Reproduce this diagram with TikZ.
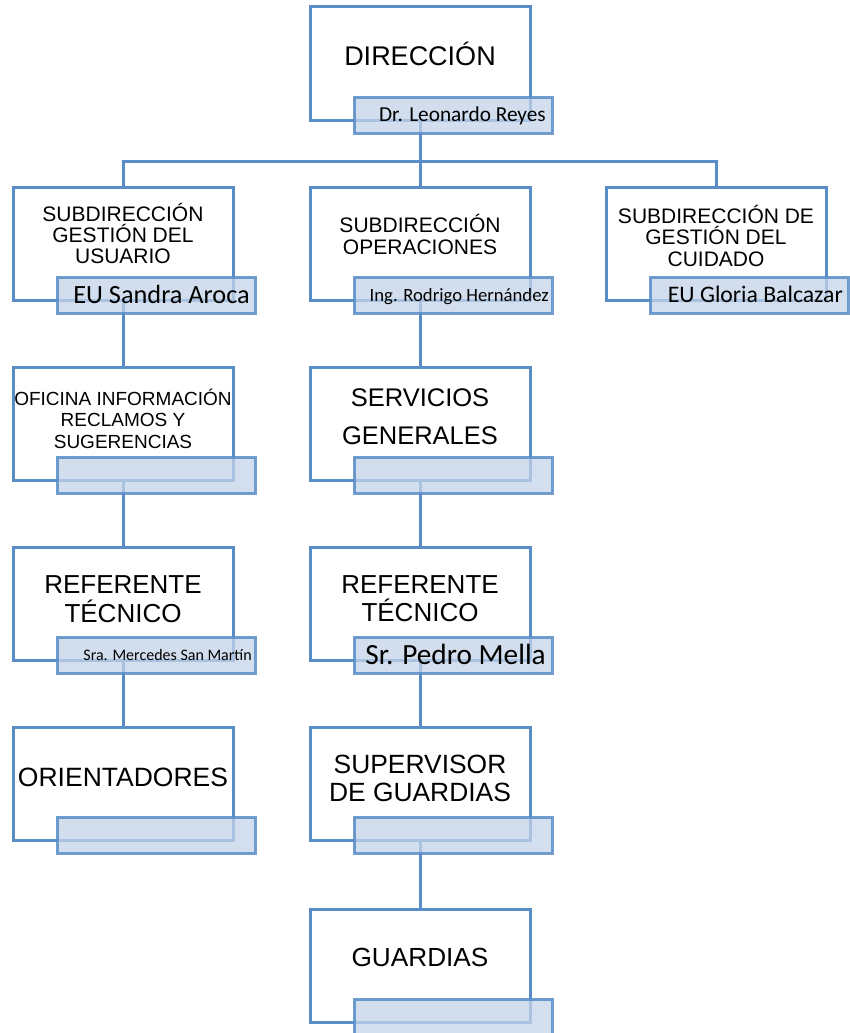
\documentclass[tikz,border=0pt]{standalone}
\usepackage{fontspec}
\setmainfont{Liberation Sans}
\newfontfamily\namefont{Carlito}
\definecolor{boxblue}{RGB}{88,141,199}
\definecolor{labfill}{RGB}{196,212,232}
\newcommand\fs[1]{\fontsize{#1}{#1}\selectfont}
\begin{document}
\begin{tikzpicture}[x=1pt,y=-1pt,
  mainbox/.style={draw=boxblue,line width=3pt,fill=white,minimum width=220pt,minimum height=113pt,inner sep=0pt},
  labbox/.style={draw=boxblue,draw opacity=0.85,fill=labfill,fill opacity=0.75,line width=3pt,minimum width=198pt,minimum height=36pt,inner sep=0pt},
  conn/.style={draw=boxblue,line width=3pt},
  ttl/.style={anchor=base,inner sep=0pt,text=black},
  nm/.style={anchor=base east,inner sep=0pt,text=black,font=\namefont}]
\useasboundingbox (0,0) rectangle (849,1033);

% main boxes
\node[mainbox] (d)   at (420,63.5)  {};
\node[mainbox] (s1)  at (123,243.5) {};
\node[mainbox] (s2)  at (420,243.5) {};
\node[mainbox] (s3)  at (716,243.5) {};
\node[mainbox] (o1)  at (123,423.5) {};
\node[mainbox] (sg)  at (420,423.5) {};
\node[mainbox] (r1)  at (123,603.5) {};
\node[mainbox] (r2)  at (420,603.5) {};
\node[mainbox] (or1) at (123,783.5) {};
\node[mainbox] (sup) at (420,783.5) {};
\node[mainbox] (g)   at (420,965.5) {};

% connectors
\coordinate (bar) at (420,161);
\draw[conn] (d.south) -- (s2.north);
\draw[conn] (s1.north) |- (bar) -| (s3.north);
\draw[conn] (s1.south) -- (o1.north);
\draw[conn] (o1.south) -- (r1.north);
\draw[conn] (r1.south) -- (or1.north);
\draw[conn] (s2.south) -- (sg.north);
\draw[conn] (sg.south) -- (r2.north);
\draw[conn] (r2.south) -- (sup.north);
\draw[conn] (sup.south) -- (g.north);

% label boxes
\node[labbox] (dL)   at (453,115) {};
\node[labbox] (s1L)  at (156,295) {};
\node[labbox] (s2L)  at (453,295) {};
\node[labbox] (s3L)  at (749,295) {};
\node[labbox] (o1L)  at (156,475) {};
\node[labbox] (sgL)  at (453,475) {};
\node[labbox] (r1L)  at (156,655) {};
\node[labbox] (r2L)  at (453,655) {};
\node[labbox] (or1L) at (156,835) {};
\node[labbox] (supL) at (453,835) {};
\node[labbox] (gL)   at (453,1017) {};

% titles
\node[ttl,font=\fs{27}] (dT) at (420,65.7) {DIRECCIÓN};

\node[ttl,font=\fs{21}] (s1T1) at (123,221.5) {SUBDIRECCIÓN};
\node[ttl,font=\fs{21}] (s1T2) at (123,242.5) {GESTIÓN DEL};
\node[ttl,font=\fs{21}] (s1T3) at (123,263.5) {USUARIO};

\node[ttl,font=\fs{21}] (s2T1) at (420,232.5) {SUBDIRECCIÓN};
\node[ttl,font=\fs{21}] (s2T2) at (420,254.5) {OPERACIONES};

\node[ttl,font=\fs{21}] (s3T1) at (716,223.5) {SUBDIRECCIÓN DE};
\node[ttl,font=\fs{21}] (s3T2) at (716,244.5) {GESTIÓN DEL};
\node[ttl,font=\fs{21}] (s3T3) at (716,266.5) {CUIDADO};

\node[ttl,font=\fs{19}] (o1T1) at (123,405.8) {OFICINA INFORMACIÓN};
\node[ttl,font=\fs{19}] (o1T2) at (123,426.8) {RECLAMOS Y};
\node[ttl,font=\fs{19}] (o1T3) at (123,448.8) {SUGERENCIAS};

\node[ttl,font=\fs{25.5}] (sgT1) at (420,406) {SERVICIOS};
\node[ttl,font=\fs{25.5}] (sgT2) at (420,444) {GENERALES};

\node[ttl,font=\fs{26}] (r1T1) at (123,593.3) {REFERENTE};
\node[ttl,font=\fs{26}] (r1T2) at (123,622.3) {TÉCNICO};

\node[ttl,font=\fs{26}] (r2T1) at (420,593.3) {REFERENTE};
\node[ttl,font=\fs{26}] (r2T2) at (420,621.3) {TÉCNICO};

\node[ttl,font=\fs{26.5}] (or1T) at (123,786.5) {ORIENTADORES};

\node[ttl,font=\fs{26.4}] (supT1) at (420,773.5) {SUPERVISOR};
\node[ttl,font=\fs{26.4}] (supT2) at (420,801.5) {DE GUARDIAS};

\node[ttl,font=\fs{26.2}] (gT) at (420,966.4) {GUARDIAS};

% names
\node[nm] (dN)  at (546,121.9) {\fs{21.3}Dr. Leonardo Reyes};
\node[nm] (s1N) at (250,303.5) {\fs{26.3}EU Sandra Aroca};
\node[nm] (s2N) at (549,301)   {\fs{18.7}Ing. Rodrigo Hernández};
\node[nm] (s3N) at (843,302.6) {\fs{23.7}EU Gloria Balcazar};
\node[nm] (r1N) at (252,660.2) {\fs{16}Sra. Mercedes San Martín};
\node[nm] (r2N) at (546,664.4) {\fs{29.3}Sr. Pedro Mella};
\end{tikzpicture}
\end{document}
